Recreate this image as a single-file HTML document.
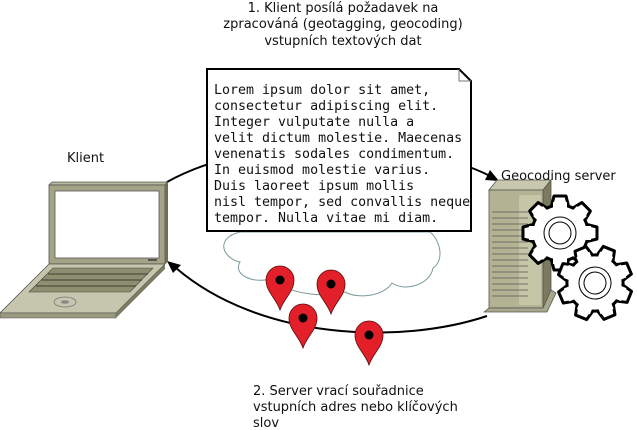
<!DOCTYPE html>
<html><head><meta charset="utf-8"><style>
html,body{margin:0;padding:0;background:#fff;width:637px;height:430px;overflow:hidden}
svg{display:block}
.t{font-family:"DejaVu Sans","Liberation Sans",sans-serif;font-size:13px;fill:#111}
.m{font-family:"DejaVu Sans Mono","Liberation Mono",monospace;font-size:13.3px;fill:#111}
</style></head><body>
<svg width="637" height="430" viewBox="0 0 637 430" xmlns="http://www.w3.org/2000/svg">
<defs>
<g id="tooth"><polygon points="-6,-37 6,-37 9,-25 -9,-25" fill="#fff" stroke="#000" stroke-width="3" stroke-linejoin="round"/></g>
<g id="gear">
<use href="#tooth" transform="rotate(0)"/><use href="#tooth" transform="rotate(45)"/>
<use href="#tooth" transform="rotate(90)"/><use href="#tooth" transform="rotate(135)"/>
<use href="#tooth" transform="rotate(180)"/><use href="#tooth" transform="rotate(225)"/>
<use href="#tooth" transform="rotate(270)"/><use href="#tooth" transform="rotate(315)"/>
<circle r="28" fill="#fff" stroke="#000" stroke-width="3"/>
<g fill="#fff"><rect x="-7" y="-31" width="14" height="8"/><rect x="-7" y="-31" width="14" height="8" transform="rotate(45)"/><rect x="-7" y="-31" width="14" height="8" transform="rotate(90)"/><rect x="-7" y="-31" width="14" height="8" transform="rotate(135)"/><rect x="-7" y="-31" width="14" height="8" transform="rotate(180)"/><rect x="-7" y="-31" width="14" height="8" transform="rotate(225)"/><rect x="-7" y="-31" width="14" height="8" transform="rotate(270)"/><rect x="-7" y="-31" width="14" height="8" transform="rotate(315)"/></g>
<circle r="16" fill="none" stroke="#000" stroke-width="1"/>
<circle r="11" fill="none" stroke="#000" stroke-width="1"/>
</g>
<g id="pin">
<path d="M0,30 C-4,18 -14,12 -14,0 A14,14 0 1 1 14,0 C14,12 4,18 0,30 Z" fill="#e3202a" stroke="#5a0a0a" stroke-width="0.8"/>
<circle r="4.5" fill="#000"/>
</g>
</defs>

<text class="t" x="343" y="12" text-anchor="middle">1. Klient posílá požadavek na</text>
<text class="t" x="343" y="28" text-anchor="middle">zpracováná (geotagging, geocoding)</text>
<text class="t" x="343" y="45" text-anchor="middle">vstupních textových dat</text>
<text class="t" x="67" y="162">Klient</text>
<text class="t" x="501" y="180">Geocoding server</text>
<text class="t" x="253" y="395">2. Server vrací souřadnice</text>
<text class="t" x="253" y="411">vstupních adres nebo klíčových</text>
<text class="t" x="253" y="427">slov</text>

<path d="M240,232 C215,238 222,258 240,262 C232,275 255,285 272,278 C285,295 330,298 345,292 C360,300 385,295 392,283 C405,292 430,285 433,268 C445,260 440,240 430,232 Z" fill="#fff" stroke="#7b9a9c" stroke-width="1"/>

<path d="M167,182 C260,130 420,140 490,176" fill="none" stroke="#000" stroke-width="2"/>
<polygon points="499,181 485,180 490,170" fill="#000"/>
<path d="M487,316 C400,345 260,340 176,268" fill="none" stroke="#000" stroke-width="2"/>
<polygon points="167,261 181,265 173,273" fill="#000"/>

<path d="M207,69 L459,69 L471,81 L471,231 L207,231 Z" fill="#fff" stroke="#000" stroke-width="2"/>
<path d="M459,69 L459,81 L471,81" fill="none" stroke="#777" stroke-width="1"/>
<text class="m" x="214" y="94">Lorem ipsum dolor sit amet,</text>
<text class="m" x="214" y="110">consectetur adipiscing elit.</text>
<text class="m" x="214" y="126">Integer vulputate nulla a</text>
<text class="m" x="214" y="142">velit dictum molestie. Maecenas</text>
<text class="m" x="214" y="158">venenatis sodales condimentum.</text>
<text class="m" x="214" y="174">In euismod molestie varius.</text>
<text class="m" x="214" y="190">Duis laoreet ipsum mollis</text>
<text class="m" x="214" y="206">nisl tempor, sed convallis neque</text>
<text class="m" x="214" y="222">tempor. Nulla vitae mi diam.</text>

<use href="#pin" x="280" y="280"/>
<use href="#pin" x="331" y="284"/>
<use href="#pin" x="303" y="318"/>
<use href="#pin" x="369" y="335"/>

<polygon points="49,185 52,182 167,182 165,185" fill="#b8b89c" stroke="#555" stroke-width="0.8"/>
<rect x="49" y="185" width="116" height="79" fill="#a3a385" stroke="#555" stroke-width="0.8"/>
<polygon points="165,185 168,182 168,262 165,264" fill="#6e6e56"/>
<rect x="55" y="191" width="104" height="67" fill="#fff" stroke="#555" stroke-width="0.8"/>
<rect x="148" y="259" width="9" height="2" fill="#555"/>
<polygon points="49,264 165,264 116,313 0,313" fill="#c6c6ae" stroke="#555" stroke-width="0.8"/>
<polygon points="0,313 116,313 116,318 0,318" fill="#9a9a80" stroke="#555" stroke-width="0.6"/>
<polygon points="116,313 165,264 165,269 116,318" fill="#7c7c64"/>
<polygon points="53,268 153,268 130,292 29,292" fill="#8e8e70" stroke="#444" stroke-width="0.6"/>
<line x1="48" y1="274" x2="148" y2="274" stroke="#222" stroke-width="0.8"/>
<line x1="42" y1="280" x2="142" y2="280" stroke="#222" stroke-width="0.8"/>
<line x1="36" y1="286" x2="136" y2="286" stroke="#222" stroke-width="0.8"/>
<ellipse cx="65" cy="302" rx="11" ry="5" fill="none" stroke="#777" stroke-width="0.8"/>
<ellipse cx="65" cy="302" rx="4" ry="1.8" fill="#888"/>

<polygon points="489,190 497,180 551,180 543,190" fill="#c8c8ae" stroke="#555" stroke-width="0.8"/>
<polygon points="543,190 551,180 551,300 543,308" fill="#7a7a5e" stroke="#555" stroke-width="0.8"/>
<rect x="489" y="190" width="54" height="118" fill="#b3b393" stroke="#555" stroke-width="0.8"/>
<rect x="519" y="195" width="22" height="110" fill="#d0d0b6" opacity="0.6"/>
<g stroke="#555" stroke-width="0.8">
<line x1="492" y1="212" x2="528" y2="212"/><line x1="492" y1="218" x2="528" y2="218"/>
<line x1="492" y1="224" x2="528" y2="224"/><line x1="492" y1="230" x2="528" y2="230"/>
<line x1="492" y1="236" x2="528" y2="236"/><line x1="492" y1="242" x2="528" y2="242"/>
<line x1="492" y1="248" x2="528" y2="248"/><line x1="492" y1="254" x2="528" y2="254"/>
<line x1="492" y1="260" x2="528" y2="260"/><line x1="492" y1="266" x2="528" y2="266"/>
<line x1="492" y1="272" x2="528" y2="272"/><line x1="492" y1="278" x2="528" y2="278"/>
<line x1="492" y1="284" x2="528" y2="284"/><line x1="492" y1="290" x2="528" y2="290"/>
<line x1="492" y1="296" x2="528" y2="296"/>
</g>
<polygon points="484,312 489,308 543,308 551,290 556,293 547,312" fill="#a8a88c" stroke="#555" stroke-width="0.8"/>

<use href="#gear" transform="translate(560,233)"/>
<use href="#gear" transform="translate(595,283) rotate(22)"/>
</svg>
</body></html>
